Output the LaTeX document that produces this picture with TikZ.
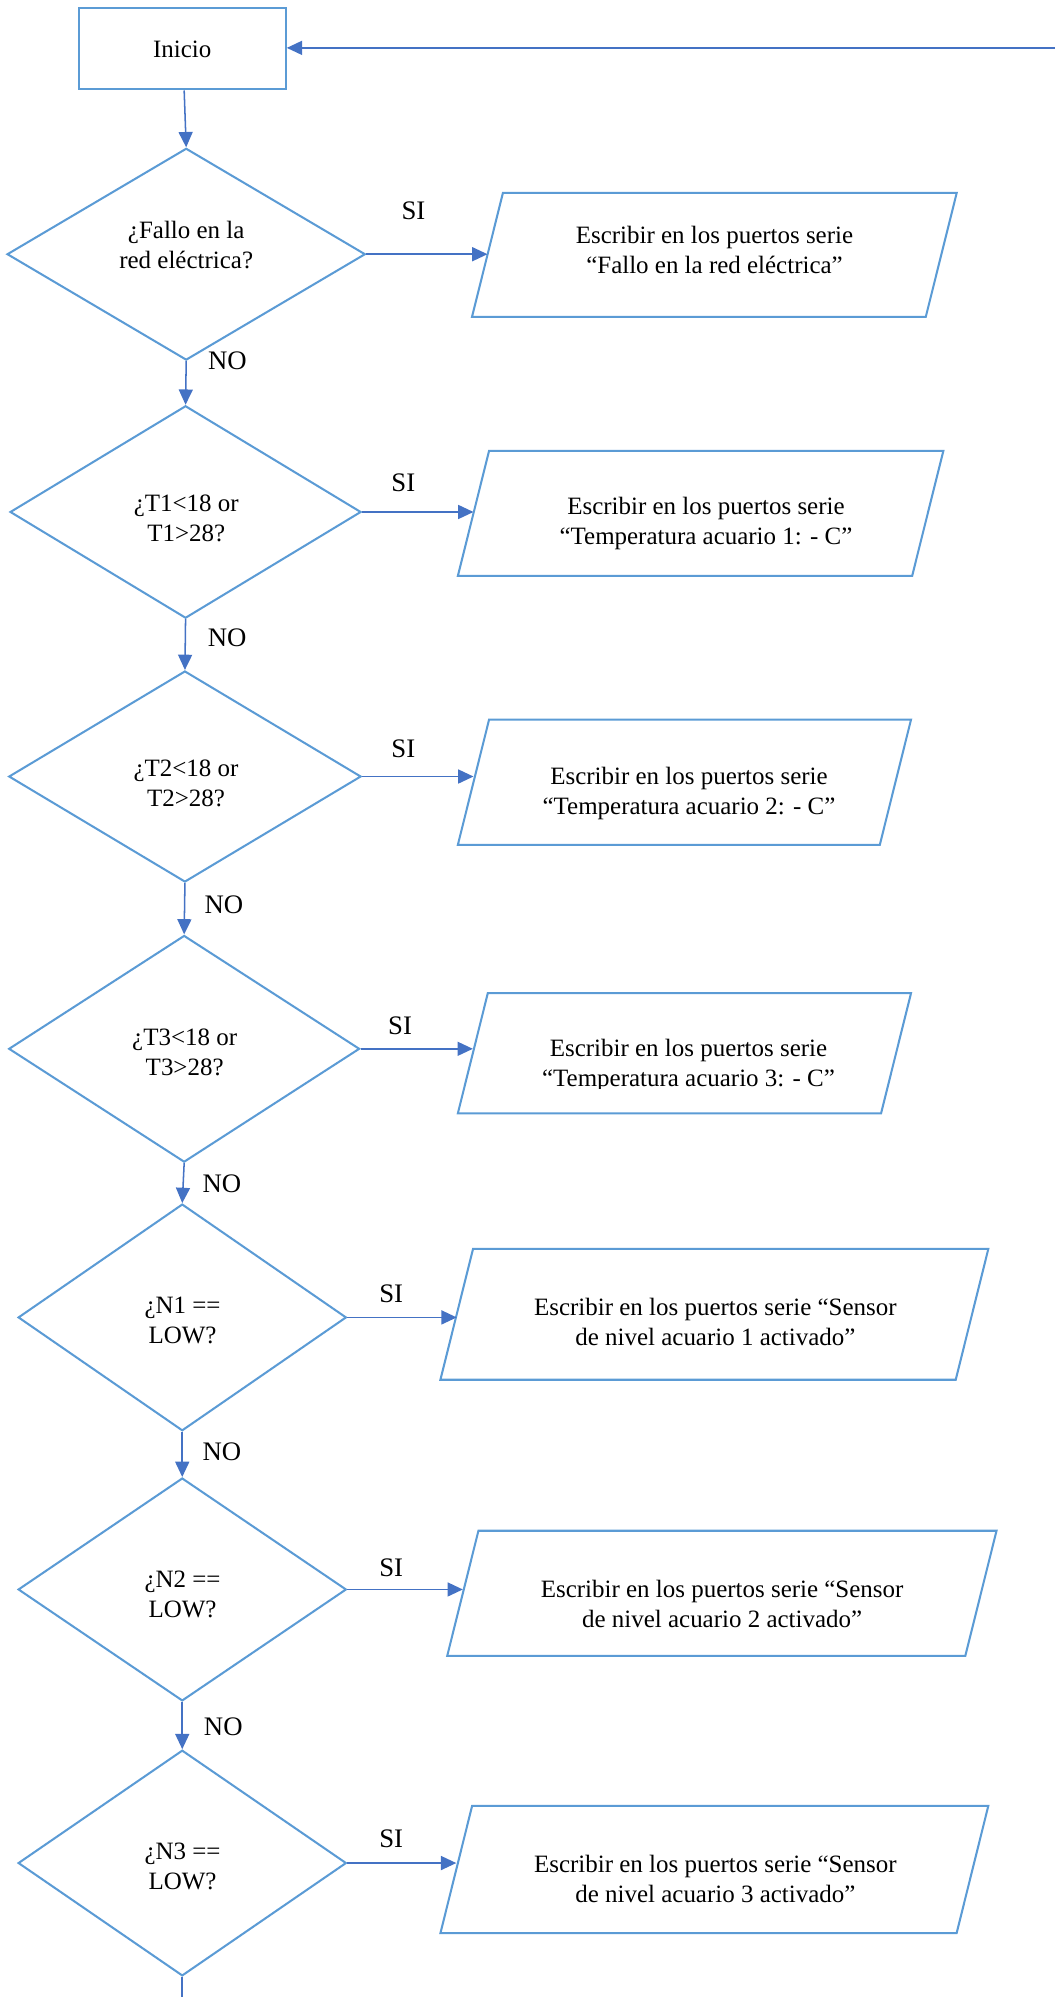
\documentclass[tikz,border=0pt]{standalone}
\usepackage{fontspec}
\setmainfont{Liberation Serif}
\usetikzlibrary{shapes.geometric,arrows.meta}
\definecolor{shapeblue}{HTML}{5B9BD5}
\definecolor{linkblue}{HTML}{4472C4}
% draw a parallelogram over the (invisible) bounding node #1 with slant #2
\newcommand\drawparabox[2]{%
  \draw[paraline] (#1.south west) -- ([xshift=#2]#1.north west) -- (#1.north east)
    -- ([xshift=-#2]#1.south east) -- cycle;
  \coordinate (#1in) at ([xshift=#2/2]#1.west);}
\begin{document}
\begin{tikzpicture}[x=1pt,y=-1pt,
  startbox/.style={rectangle, draw=shapeblue, line width=1.6pt, inner sep=0pt,
    font=\fontsize{19.6}{23.5}\selectfont},
  dec/.style={diamond, draw=shapeblue, line width=1.6pt, inner sep=0pt},
  parabound/.style={rectangle, inner sep=0pt, outer sep=0pt},
  paraline/.style={draw=shapeblue, line width=1.6pt, line join=miter},
  txt/.style={align=center, inner sep=0pt, font=\fontsize{19.6}{23.5}\selectfont},
  lbl/.style={inner sep=0pt, font=\fontsize{21}{25}\selectfont},
  link/.style={draw=linkblue, line width=1.2pt, -{Triangle[length=12pt,width=11pt]}},
  plainlink/.style={draw=linkblue, line width=1.2pt}]
\useasboundingbox (0,0) rectangle (828,1568);

% start
\node[startbox, minimum width=162.6pt, minimum height=63.7pt] (inicio) at (143.1,38.4) {Inicio};
\coordinate (ret) at (828,37.6);
\draw[link] (ret) -- (ret -| inicio.east);

% decisions
\node[dec, minimum width=281.3pt, minimum height=166.3pt] (d1) at (146.2,199.6) {};
\node[dec, minimum width=275.6pt, minimum height=166.8pt] (d2) at (145.7,402.0) {};
\node[dec, minimum width=276.6pt, minimum height=165.7pt] (d3) at (145.2,609.7) {};
\node[dec, minimum width=275.5pt, minimum height=178.0pt] (d4) at (144.6,823.5) {};
\node[dec, minimum width=257.7pt, minimum height=178.0pt] (d5) at (143.1,1034.4) {};
\node[dec, minimum width=257.7pt, minimum height=175.0pt] (d6) at (143.1,1248.0) {};
\node[dec, minimum width=257.7pt, minimum height=177.2pt] (d7) at (143.1,1462.8) {};

\node[txt] (d1t) at (146.2,192.5) {¿Fallo en la\\red eléctrica?};
\node[txt] (d2t) at (146.2,406.7) {¿T1<18 or\\T1>28?};
\node[txt] (d3t) at (146.0,614.8) {¿T2<18 or\\T2>28?};
\node[txt] (d4t) at (145.0,826.0) {¿T3<18 or\\T3>28?};
\node[txt] (d5t) at (143.3,1037.0) {¿N1 ==\\LOW?};
\node[txt] (d6t) at (143.3,1251.6) {¿N2 ==\\LOW?};
\node[txt] (d7t) at (143.3,1465.7) {¿N3 ==\\LOW?};

% outputs (bounding boxes of the parallelograms)
\node[parabound, minimum width=380.6pt, minimum height=97.4pt] (p1) at (560.9,200.1) {};
\node[parabound, minimum width=381.2pt, minimum height=98.2pt] (p2) at (550.1,403.1) {};
\node[parabound, minimum width=355.8pt, minimum height=98.3pt] (p3) at (537.4,614.2) {};
\node[parabound, minimum width=355.8pt, minimum height=94.3pt] (p4) at (537.4,827.0) {};
\node[parabound, minimum width=430.2pt, minimum height=102.7pt] (p5) at (560.9,1032.0) {};
\node[parabound, minimum width=431.3pt, minimum height=98.2pt] (p6) at (566.8,1251.0) {};
\node[parabound, minimum width=430.2pt, minimum height=100.0pt] (p7) at (560.9,1467.9) {};
\drawparabox{p1}{24.3}
\drawparabox{p2}{24.5}
\drawparabox{p3}{24.5}
\drawparabox{p4}{23.5}
\drawparabox{p5}{25.6}
\drawparabox{p6}{24.5}
\drawparabox{p7}{24.9}

\node[txt] (p1t) at (561.0,196.4) {Escribir en los puertos serie\\“Fallo en la red eléctrica”};
\node[txt] (p2t) at (554.3,411.1) {Escribir en los puertos serie\\“Temperatura acuario 1: - C”};
\node[txt] (p3t) at (541.0,623.2) {Escribir en los puertos serie\\“Temperatura acuario 2: - C”};
\begin{scope}
  \clip (365,785) rectangle (712,855);
  \node[txt] (p4t) at (540.6,836.6) {Escribir en los puertos serie\\“Temperatura acuario 3: - C”};
\end{scope}
\node[txt] (p5t) at (561.7,1038.3) {Escribir en los puertos serie “Sensor\\de nivel acuario 1 activado”};
\node[txt] (p6t) at (567.0,1259.5) {Escribir en los puertos serie “Sensor\\de nivel acuario 2 activado”};
\node[txt] (p7t) at (561.7,1475.5) {Escribir en los puertos serie “Sensor\\de nivel acuario 3 activado”};

% vertical flow
\draw[link] ([xshift=1.5pt]inicio.south) -- (d1.north);
\draw[link] (d1.south) -- (d2.north);
\draw[link] (d2.south) -- (d3.north);
\draw[link] (d3.south) -- (d4.north);
\draw[link] (d4.south) -- (d5.north);
\draw[link] (d5.south) -- (d6.north);
\draw[link] (d6.south) -- (d7.north);
\coordinate (bot) at (145.2,1568);
\draw[plainlink] (d7.south) -- (d7.south |- bot);

% SI branches
\draw[link] (d1.east) -- (d1.east -| p1in);
\draw[link] (d2.east) -- (d2.east -| p2in);
\draw[link] (d3.east) -- (d3.east -| p3in);
\draw[link] (d4.east) -- (d4.east -| p4in);
\draw[link] (d5.east) -- (d5.east -| p5in);
\draw[link] (d6.east) -- (d6.east -| p6in);
\draw[link] (d7.east) -- (d7.east -| p7in);

% labels
\node[lbl] (si1) at (324.6,165.5) {SI};
\node[lbl] (si2) at (316.7,379.0) {SI};
\node[lbl] (si3) at (316.7,587.8) {SI};
\node[lbl] (si4) at (314.1,805.7) {SI};
\node[lbl] (si5) at (307.2,1016.0) {SI};
\node[lbl] (si6) at (307.2,1230.7) {SI};
\node[lbl] (si7) at (307.2,1444.0) {SI};
\node[lbl] (no1) at (178.5,283.0) {NO};
\node[lbl] (no2) at (178.4,500.6) {NO};
\node[lbl] (no3) at (175.8,710.1) {NO};
\node[lbl] (no4) at (174.2,929.6) {NO};
\node[lbl] (no5) at (174.2,1139.6) {NO};
\node[lbl] (no6) at (175.3,1355.9) {NO};
\end{tikzpicture}
\end{document}
